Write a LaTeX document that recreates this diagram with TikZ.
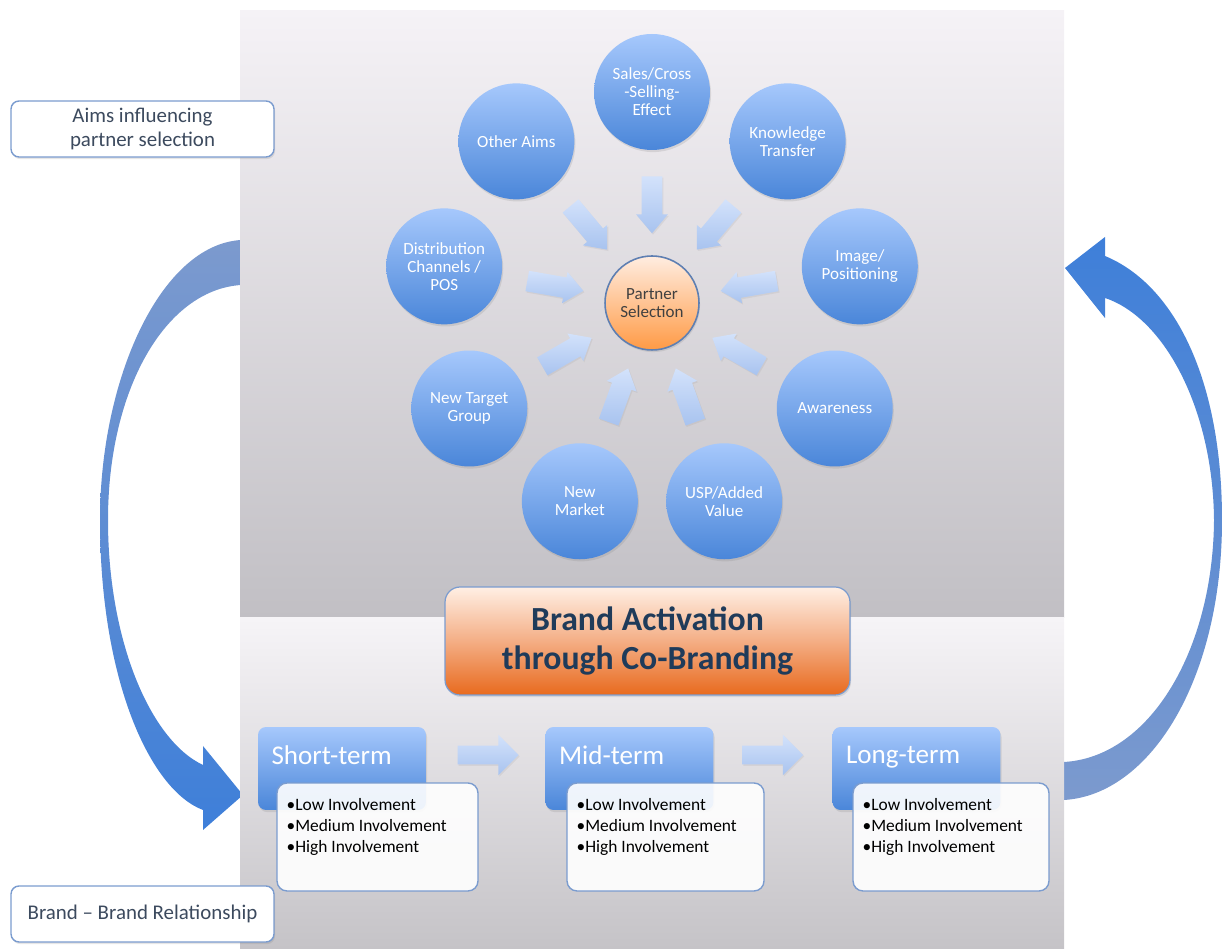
\documentclass[tikz,border=0pt]{standalone}
\usepackage{fontspec}
\setmainfont{Carlito}
\usetikzlibrary{calc,shapes.arrows,shadows}

\definecolor{aimTop}{HTML}{A6C8FC}
\definecolor{aimBot}{HTML}{4A86D9}
\definecolor{feedTop}{HTML}{D3E2FB}
\definecolor{feedBot}{HTML}{A8C3EF}
\definecolor{selTop}{HTML}{FFEDE1}
\definecolor{selBot}{HTML}{FF9A45}
\definecolor{selRim}{HTML}{5E7FB2}
\definecolor{titleTop}{HTML}{FFEFE4}
\definecolor{titleMid}{HTML}{F4AE85}
\definecolor{titleBot}{HTML}{E86A1E}
\definecolor{titleInk}{HTML}{1F3B5A}
\definecolor{rimBlue}{HTML}{7B9CCF}
\definecolor{labelInk}{HTML}{3C4A5E}
\definecolor{panTop}{HTML}{F5F2F6}
\definecolor{panBot}{HTML}{C1BFC4}
\definecolor{panLowTop}{HTML}{F6F4F7}
\definecolor{panLowBot}{HTML}{C5C3C7}
\definecolor{loopPale}{HTML}{7C9ACE}
\definecolor{loopDeep}{HTML}{3E7FD9}

\begin{document}
\begin{tikzpicture}[x=0.02cm, y=0.02cm,
  softshadow/.style={drop shadow={opacity=0.2, shadow xshift=0.6pt, shadow yshift=-1.2pt}},
  aim/.style={circle, minimum size=2.32cm, inner sep=0pt, top color=aimTop, bottom color=aimBot,
    text=white, align=center, font=\fontsize{9.7}{10.2}\selectfont, softshadow},
  selection/.style={circle, minimum size=1.88cm, inner sep=0pt, top color=selTop, bottom color=selBot,
    draw=selRim, line width=0.9pt, text=black!75, align=center, font=\fontsize{9.7}{10.2}\selectfont, softshadow},
  feed/.style={single arrow, anchor=tail, minimum height=1.14cm, inner xsep=0pt, inner ysep=0.2cm,
    single arrow head extend=0.11cm, single arrow tip angle=80, top color=feedTop, bottom color=feedBot,
    drop shadow={opacity=0.12, shadow xshift=0.6pt, shadow yshift=-0.8pt}},
  stepper/.style={single arrow, anchor=tail, minimum height=1.22cm, inner xsep=0pt, inner ysep=0.18cm,
    single arrow head extend=0.22cm, single arrow tip angle=90, top color=feedTop, bottom color=feedBot,
    drop shadow={opacity=0.12, shadow xshift=0.6pt, shadow yshift=-0.8pt}},
  sidelabel/.style={rectangle, rounded corners=0.16cm, draw=rimBlue, line width=0.8pt, fill=white,
    minimum width=5.26cm, minimum height=1.12cm, align=center, text=labelInk,
    font=\fontsize{11.9}{13.6}\selectfont, softshadow},
  titlebox/.style={rectangle, rounded corners=0.3cm, draw=rimBlue, line width=0.7pt,
    top color=titleTop, bottom color=titleBot, middle color=titleMid,
    minimum width=8.1cm, minimum height=2.16cm, align=center, text=titleInk,
    font=\fontsize{19.2}{22}\selectfont\bfseries, softshadow},
  phase/.style={rectangle, rounded corners=0.16cm, top color=aimTop, bottom color=aimBot,
    minimum width=3.36cm, minimum height=1.66cm, softshadow,
    label={[anchor=north west, inner sep=0pt, xshift=0.27cm, yshift=-0.38cm, text=white,
      font=\fontsize{15.4}{17}\selectfont]north west:#1}},
  detail/.style={rectangle, rounded corners=0.2cm, draw=rimBlue, line width=0.8pt, fill=white,
    fill opacity=0.9, minimum height=2.16cm,
    label={[anchor=north west, inner sep=0pt, xshift=0.2cm, yshift=-0.32cm, align=left,
      text opacity=1, font=\fontsize{9.9}{11.9}\selectfont]north west:{•Low Involvement\\•Medium Involvement\\•High Involvement}}}
]
\useasboundingbox (0,0) rectangle (1223,949);

% feedback loops round the two panels
\shade[top color=loopPale, bottom color=loopDeep]
  (250,709) -- (241,709) .. controls (160,704) and (100,569) .. (100,429)
  .. controls (100,269) and (150,159) .. (203,139)
  -- (203,119) -- (243,154) -- (203,203) -- (203,184)
  .. controls (150,209) and (108,309) .. (108,429)
  .. controls (108,559) and (165,659) .. (241,664) -- (250,664) -- cycle;
\shade[top color=loopDeep, bottom color=loopPale]
  (1055,149) -- (1064,149) .. controls (1150,154) and (1222,269) .. (1222,429)
  .. controls (1222,569) and (1175,664) .. (1105,693)
  -- (1105,712) -- (1065,681) -- (1105,631) -- (1105,651)
  .. controls (1165,631) and (1213,539) .. (1214,429)
  .. controls (1213,299) and (1150,192) .. (1064,187) -- (1055,187) -- cycle;

% background panels
\shade[top color=panTop, bottom color=panBot] (240,331) rectangle (1064,938);
\shade[top color=panLowTop, bottom color=panLowBot] (240,0) rectangle (1064,331);

% side labels
\node[sidelabel] (aimslabel) at (142.5,820) {Aims influencing\\partner selection};
\node[sidelabel] (brandlabel) at (142.5,35) {Brand -- Brand Relationship};

% aims around the partner selection
\node[selection] (ps) at (652,646) {Partner\\Selection};
\node[aim] (sales)   at ($(ps)+(90:211)$)   {Sales/Cross\\-Selling-\\Effect};
\node[aim] (know)    at ($(ps)+(50:211)$)   {Knowledge\\Transfer};
\node[aim] (image)   at ($(ps)+(10:211)$)   {Image/\\Positioning};
\node[aim] (aware)   at ($(ps)+(-30:211)$)  {Awareness};
\node[aim] (usp)     at ($(ps)+(-70:211)$)  {USP/Added\\Value};
\node[aim] (nmarket) at ($(ps)+(-110:211)$) {New\\Market};
\node[aim] (ntarget) at ($(ps)+(-150:211)$) {New Target\\Group};
\node[aim] (distr)   at ($(ps)+(170:211)$)  {Distribution\\Channels /\\POS};
\node[aim] (other)   at ($(ps)+(130:211)$)  {Other Aims};

\foreach \src/\ang in {sales/90, know/50, image/10, aware/-30, usp/-70,
                      nmarket/-110, ntarget/-150, distr/170, other/130}
  \node[feed, rotate=\ang+180] (f\src) at ($(ps)!0.602!(\src)$) {};

% central title
\node[titlebox] (title) at (647.5,308) {Brand Activation\\through Co-Branding};

% relationship phases
\node[phase=Short-term] (st) at (342,180.5) {};
\node[phase=Mid-term]   (mt) at (629.5,180.5) {};
\node[phase=Long-term]  (lt) at (916.5,180.5) {};

\node[detail, minimum width=4.02cm] (std) at (377.5,112) {};
\node[detail, minimum width=3.94cm] (mtd) at (665.5,112) {};
\node[detail, minimum width=3.92cm] (ltd) at (951,112) {};

\node[stepper] (s1) at ($(st.east)+(31,13.5)$) {};
\node[stepper] (s2) at ($(mt.east)+(28,13.5)$) {};
\end{tikzpicture}
\end{document}
